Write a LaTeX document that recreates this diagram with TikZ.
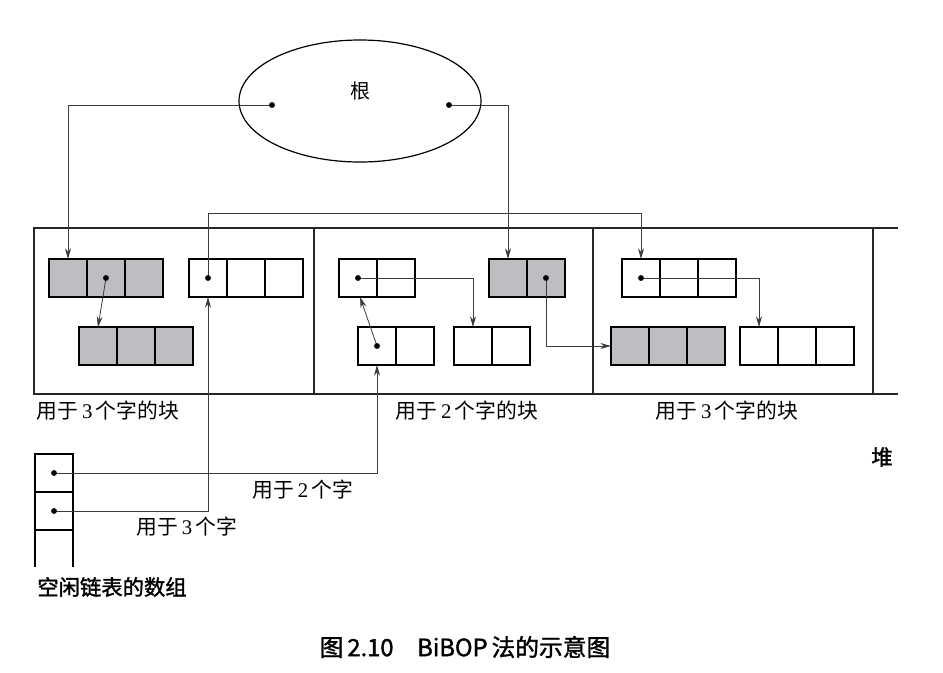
\documentclass[tikz,border=0pt]{standalone}
\usepackage{fontspec}
\setmainfont{Liberation Serif}
\newfontfamily\cjk{Noto Sans CJK SC}
\newfontfamily\cjkb[FakeBold=1.5]{Noto Sans CJK SC}
\usetikzlibrary{arrows.meta,shapes.geometric,calc}
\definecolor{cellgray}{RGB}{189,190,194}
\definecolor{linegray}{RGB}{60,60,60}
\newcommand\cellrow[5]{\foreach \i in {1,...,#4} {\node[#5] (#1-\i) at ({#2+38*(\i-1)+19},{#3+19}) {};}}
\begin{document}
\begin{tikzpicture}[x=0.75pt,y=-0.75pt,
  cellw/.style={draw=black,line width=1.1pt,fill=white,minimum width=28.5pt,minimum height=28.5pt,inner sep=0pt,outer sep=0pt},
  cellg/.style={cellw,fill=cellgray},
  cellthick/.style={cellw,line width=1.7pt},
  wire/.style={draw=linegray,line width=0.6pt},
  conn/.style={wire,-{Stealth[length=8pt,width=4.5pt]}},
  heap/.style={draw=black!85,line width=0.8pt},
  lbl/.style={font=\fontsize{15.6}{17}\selectfont,inner sep=0pt},
  blbl/.style={font=\fontsize{16}{18}\selectfont\cjkb,inner sep=0pt},
  dot/.style={fill=black}]
\path[use as bounding box] (0,0) rectangle (943,672);

% root ellipse
\node[ellipse,draw=black,line width=0.9pt,minimum width=181.5pt,minimum height=91.5pt,inner sep=0pt] (root) at (360,101) {};
\node[lbl,font=\fontsize{15}{16}\selectfont\cjk] (rootlbl) at (360,91) {根};
\coordinate (rl) at (272,105);
\coordinate (rr) at (449,105);

% heap frame
\draw[heap] (898,228) -- (34,228) -- (34,394) -- (898,394);
\draw[heap] (314,228) -- (314,394);
\draw[heap] (593,228) -- (593,394);
\draw[heap] (873,228) -- (873,394);

% section 1
\cellrow{bag}{49}{259}{3}{cellg}
\cellrow{bbg}{79}{327}{3}{cellg}
\cellrow{baw}{189}{259}{3}{cellw}
% section 2
\cellrow{caw}{339}{259}{2}{cellw}
\cellrow{cag}{489}{259}{2}{cellg}
\node[cellw] (cbm-2) at ({358+38+19},{327+19}) {};
\node[cellthick] (cbm-1) at ({358+19},{327+19}) {};
\cellrow{cbw}{454}{327}{2}{cellw}
% section 3
\cellrow{daw}{622}{259}{3}{cellw}
\cellrow{dbg}{611}{327}{3}{cellg}
\cellrow{dbw}{740}{327}{3}{cellw}

% free list array
\node[cellw] (f1) at (54,473) {};
\node[cellw] (f2) at (54,511) {};
\draw[black,line width=1.1pt] (f2.south west) -- ++(0,37);
\draw[black,line width=1.1pt] (f2.south east) -- ++(0,37);

% connectors
\draw[conn] (rl) -| (bag-1.north);
\draw[conn] (rr) -| (cag-1.north);
\draw[conn] (bag-2.center) -- (bbg-1.north);
\draw[conn] (baw-1.center) -- (baw-1.center |- 0,213) -| (daw-1.north);
\draw[conn] (caw-1.center) -| (cbw-1.north);
\draw[conn] (cbm-1.center) -- ($(caw-1.south)+(2,0)$);
\draw[conn] (cag-2.center) |- (dbg-1.west);
\draw[conn] (daw-1.center) -| (dbw-1.north);
\draw[conn] (f1.center) -| (cbm-1.south);
\draw[conn] (f2.center) -| (baw-1.south);

% dots
\foreach \c in {rl,rr,bag-2.center,baw-1.center,caw-1.center,cbm-1.center,cag-2.center,daw-1.center,f1.center,f2.center}
  \fill[dot] (\c) circle (2.2pt);

% labels
\node[lbl] (l1) at (108,411) {{\cjk 用于}\,3\,{\cjk 个字的块}};
\node[lbl] (l2) at (467,411) {{\cjk 用于}\,2\,{\cjk 个字的块}};
\node[lbl] (l3) at (727,411) {{\cjk 用于}\,3\,{\cjk 个字的块}};
\node[lbl] (l4) at (303,490) {{\cjk 用于}\,2\,{\cjk 个字}};
\node[lbl] (l5) at (187,527) {{\cjk 用于}\,3\,{\cjk 个字}};
\node[blbl] (heaplbl) at (882,457) {堆};
\node[blbl] (freelbl) at (112,587) {空闲链表的数组};
\node[blbl,font=\fontsize{17.8}{20}\selectfont\cjkb] (cap) at (465,647) {图\,2.10\hspace{1em}BiBOP\,法的示意图};
\end{tikzpicture}
\end{document}
